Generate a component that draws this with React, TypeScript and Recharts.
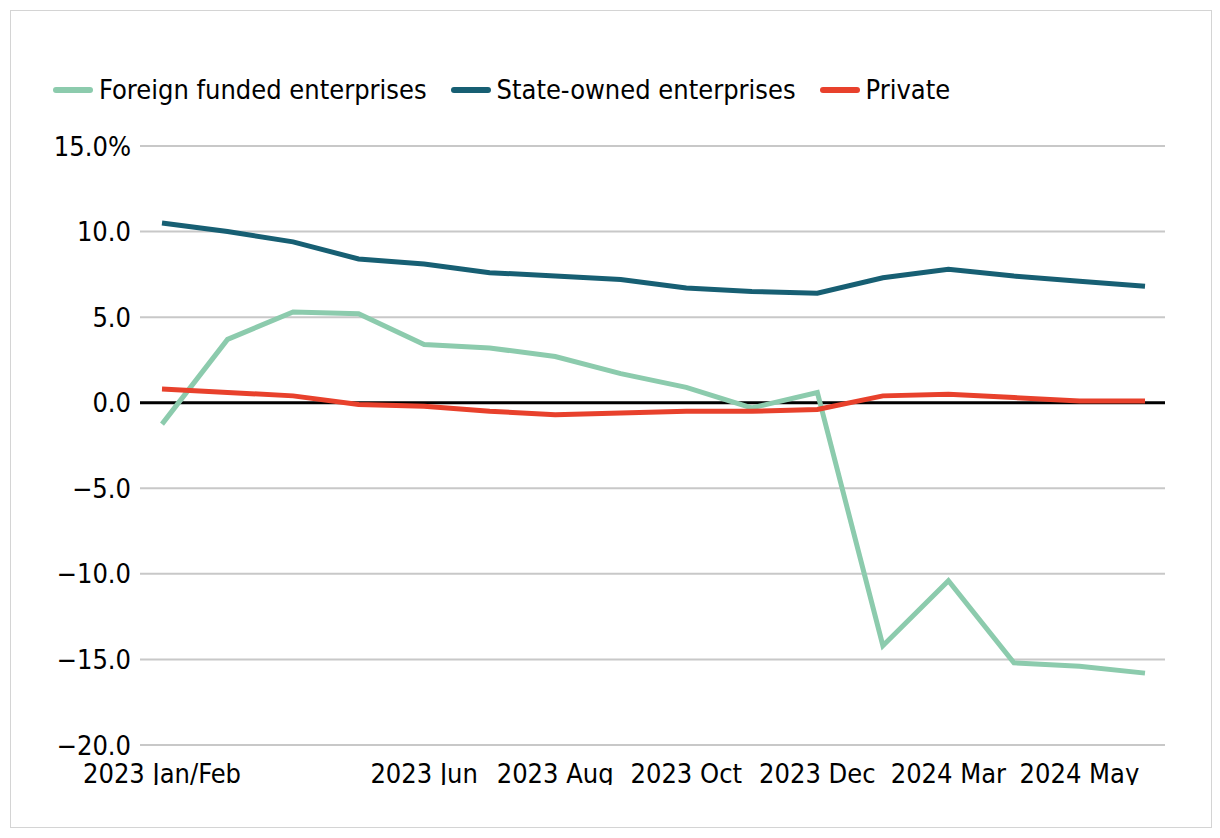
import React from 'react';
import { LineChart, Line, XAxis, YAxis, CartesianGrid, ReferenceLine } from 'recharts';

const months = [
  '2023 Jan/Feb', '2023 Mar', '2023 Apr', '2023 May', '2023 Jun', '2023 Jul', '2023 Aug', '2023 Sep',
  '2023 Oct', '2023 Nov', '2023 Dec', '2024 Jan/Feb', '2024 Mar', '2024 Apr', '2024 May', '2024 Jun',
];
const shownLabels = ['2023 Jan/Feb', '2023 Jun', '2023 Aug', '2023 Oct', '2023 Dec', '2024 Mar', '2024 May'];

const foreignFunded = [-1.25, 3.7, 5.3, 5.2, 3.4, 3.2, 2.7, 1.7, 0.9, -0.3, 0.6, -14.2, -10.4, -15.2, -15.4, -15.8];
const stateOwned = [10.5, 10.0, 9.4, 8.4, 8.1, 7.6, 7.4, 7.2, 6.7, 6.5, 6.4, 7.3, 7.8, 7.4, 7.1, 6.8];
const privateSector = [0.8, 0.6, 0.4, -0.1, -0.2, -0.5, -0.7, -0.6, -0.5, -0.5, -0.4, 0.4, 0.5, 0.3, 0.1, 0.1];

const yTicks = [-20, -15, -10, -5, 0, 5, 10, 15];

const series = [
  { key: 'foreign', name: 'Foreign funded enterprises', color: '#8ccbad' },
  { key: 'state', name: 'State-owned enterprises', color: '#175f73' },
  { key: 'private', name: 'Private', color: '#e8412c' },
];

const data = months.map((m, i) => ({
  month: m,
  foreign: foreignFunded[i],
  state: stateOwned[i],
  private: privateSector[i],
}));

const FONT = '"Liberation Sans Narrow", "DejaVu Sans Condensed", "Roboto Condensed", sans-serif';

const fmtY = (v: number) => {
  const s = Math.abs(v).toFixed(1);
  const t = v < 0 ? '\u2212' + s : s;
  return v === 15 ? t + '%' : t;
};

const ChartLegend = () => (
  <div style={{ position: 'absolute', left: 42, top: 63, display: 'flex', alignItems: 'center', fontFamily: FONT, fontSize: 27, color: '#000' }}>
    {series.map((s) => (
      <div key={s.key} style={{ display: 'flex', alignItems: 'center', marginRight: 24 }}>
        <span style={{ display: 'inline-block', width: 40, height: 6, borderRadius: 3, background: s.color, marginRight: 6 }} />
        <span>{s.name}</span>
      </div>
    ))}
  </div>
);

export default function App() {
  return (
    <div style={{ position: 'relative', width: 1200, height: 816, border: '1px solid #d4d4d4', marginLeft: 2, marginTop: 2, background: '#fff' }}>
      <ChartLegend />
      <div style={{ position: 'absolute', left: 0, top: 0, width: 1200, height: 774, overflow: 'hidden' }}>
        <LineChart width={1200} height={790} data={data} margin={{ top: 135, right: 46, left: 0, bottom: 0 }}>
          <CartesianGrid horizontal vertical={false} stroke="#c8c8c8" strokeWidth={2} />
          <XAxis
            dataKey="month"
            interval={0}
            padding={{ left: 22, right: 20 }}
            axisLine={false}
            tickLine={false}
            tickMargin={13}
            height={56}
            tick={{ fill: '#000', fontSize: 27, fontFamily: FONT }}
            tickFormatter={(v: string) => (shownLabels.includes(v) ? v : '')}
          />
          <YAxis
            type="number"
            domain={[-20, 15]}
            ticks={yTicks}
            width={129}
            axisLine={false}
            tickLine={false}
            tickMargin={3}
            tickFormatter={fmtY}
            tick={{ fill: '#000', fontSize: 27, fontFamily: FONT }}
          />
          <ReferenceLine y={0} stroke="#000" strokeWidth={3} />
          {series.map((s) => (
            <Line
              key={s.key}
              dataKey={s.key}
              name={s.name}
              type="linear"
              stroke={s.color}
              strokeWidth={5}
              dot={false}
              isAnimationActive={false}
            />
          ))}
        </LineChart>
      </div>
    </div>
  );
}
